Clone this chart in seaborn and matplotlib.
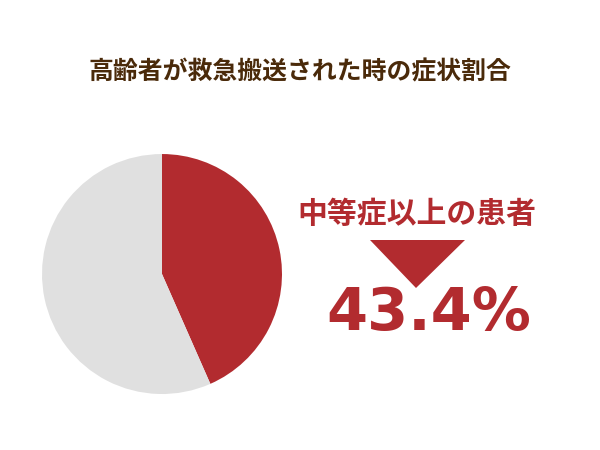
import matplotlib
matplotlib.use("Agg")
import matplotlib.pyplot as plt
import seaborn as sns
from matplotlib.patches import Polygon

title = "高齢者が救急搬送された時の症状割合"
labels = ["中等症以上", "その他"]
values = [43.4, 56.6]
colors = ["#B22B2F", "#E0E0E0"]
callout = "中等症以上の患者"
value_text = "43.4%"

sns.set_theme(style="white")
plt.rcParams['font.family'] = ['Noto Sans CJK JP', 'DejaVu Sans']

fig = plt.figure(figsize=(6, 4.5), dpi=100)
fig.patch.set_facecolor("white")

ax = fig.add_axes([0.07, 0.1244, 0.4, 0.5333])
ax.pie(values, colors=colors, startangle=90, counterclock=False,
       wedgeprops=dict(linewidth=0))
ax.set_xlim(-1, 1)
ax.set_ylim(-1, 1)
ax.set_aspect("equal")
ax.axis("off")

fig.text(0.5, 1 - 72/450, title, ha="center", va="center",
         fontsize=17.9, fontweight="bold", color="#4A2A0A")
fig.text(417/600, 1 - 214/450, callout, ha="center", va="center",
         fontsize=21.5, fontweight="bold", color="#B22B2F")
tri = Polygon([[370/600, 1 - 240/450], [465/600, 1 - 240/450], [416/600, 1 - 288/450]],
              closed=True, transform=fig.transFigure, facecolor="#B22B2F", edgecolor="none")
fig.patches.append(tri)
fig.text(428.5/600, 1 - 330/450, value_text, ha="center", va="baseline",
         fontsize=42.5, fontweight="bold", color="#B22B2F", family=["DejaVu Sans"])

fig.savefig("out.png", dpi=100, facecolor="white")
